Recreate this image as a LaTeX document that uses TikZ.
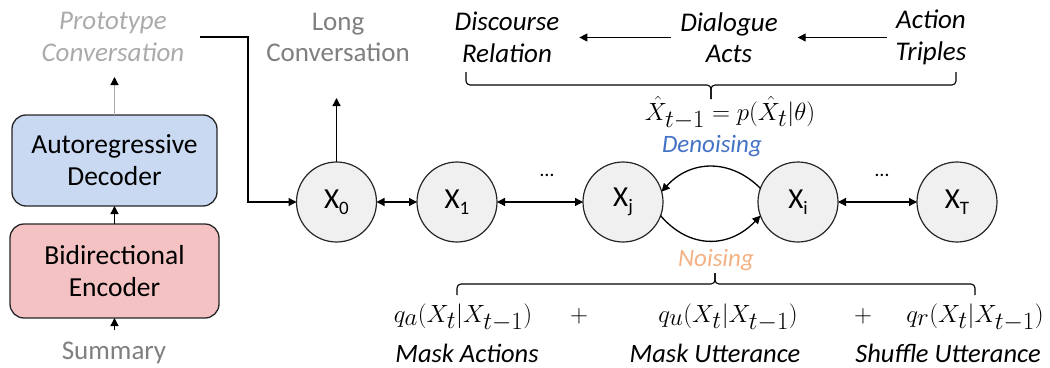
\documentclass[tikz,border=0pt]{standalone}
\usepackage{fontspec}
\setmainfont{Carlito}
\usetikzlibrary{arrows.meta}
\definecolor{decfill}{HTML}{C9D9F2}
\definecolor{encfill}{HTML}{F4C2C2}
\definecolor{nodefill}{HTML}{F0F0F0}
\definecolor{denoise}{HTML}{4472C4}
\definecolor{noise}{HTML}{F4B183}
\definecolor{lightgraytext}{HTML}{ABABAB}
\definecolor{graytext}{HTML}{7F7F7F}
\definecolor{edge}{HTML}{262626}
\newcommand\xsub[1]{\raisebox{-6pt}{\fontsize{19}{19}\selectfont #1}}
\begin{document}
\begin{tikzpicture}[x=1pt,y=-1pt,
  every node/.style={inner sep=0pt, outer sep=0pt},
  box/.style={draw=edge, line width=1.3pt, rounded corners=14pt, minimum width=205pt, minimum height=91pt, align=center, font=\fontsize{27.5}{32}\selectfont},
  state/.style={circle, draw=edge, line width=1.2pt, fill=nodefill, minimum size=80pt, font=\fontsize{29}{29}\selectfont},
  lbl/.style={align=center, font=\fontsize{27}{31.5}\selectfont},
  ilbl/.style={align=center, font=\fontsize{27}{31.5}\selectfont\itshape},
  conn/.style={line width=1.3pt, -{Triangle[length=8pt,width=8pt]}},
  biconn/.style={line width=1.3pt, {Triangle[length=8pt,width=8pt]}-{Triangle[length=8pt,width=8pt]}},
  mth/.style={font=\fontsize{33}{33}\selectfont, anchor=base},
  bracel/.style={line width=1.1pt, rounded corners=4pt},
]
\useasboundingbox (0,0) rectangle (1050,367);

% left encoder-decoder
\node[box, fill=decfill] (dec) at (114.5,160.5) {Autoregressive\\Decoder};
\node[box, fill=encfill, minimum width=209pt, minimum height=94pt] (enc) at (114.5,271) {Bidirectional\\Encoder};
\node[lbl, text=graytext] (sum) at (114,353) {Summary};
\node[ilbl, text=lightgraytext] (proto) at (113,37) {Prototype\\Conversation};
\node[lbl, text=graytext] (long) at (338,37.5) {Long\\Conversation};

\coordinate (protoin) at (114.5,77);
\coordinate (sumout) at (114.5,330);
\coordinate (protoout) at (200,37);
\coordinate (bend) at (248,37);
\coordinate (longin) at (336.5,98);

% states
\node[state] (x0) at (336.5,202) {X\xsub{0}};
\node[state] (x1) at (457,202) {X\xsub{1}};
\node[state] (xj) at (623,202) {X\xsub{j}};
\node[state] (xi) at (798,202) {X\xsub{i}};
\node[state] (xT) at (957,202) {X\xsub{T}};
\node[font=\fontsize{20}{20}\selectfont] (d1) at (547,175) {…};
\node[font=\fontsize{20}{20}\selectfont] (d2) at (882,175) {…};

\draw[line width=1.1pt, draw=lightgraytext, -{Triangle[length=8pt,width=8pt,color=black]}] (dec.north) -- (protoin);
\draw[conn] (enc.north) -- (dec.south);
\draw[conn] (sumout) -- (enc.south);
\draw[conn] (protoout) -- (bend) |- (x0.west);
\draw[conn] (x0.north) -- (longin);
\draw[biconn] (x0.east) -- (x1.west);
\draw[biconn] (x1.east) -- (xj.west);
\draw[biconn] (xi.east) -- (xT.west);
\draw[conn] (xi.160) .. controls (730,158) and (690,160) .. (xj.15);
\draw[conn] (xj.-20) .. controls (690,250) and (730,248) .. (xi.200);

\node[ilbl, text=denoise, font=\fontsize{25}{25}\selectfont\itshape] (den) at (712,146) {Denoising};
\node[ilbl, text=noise, font=\fontsize{25}{25}\selectfont\itshape] (noi) at (716,260) {Noising};

% top
\node[ilbl] (disc) at (507,37.5) {Discourse\\Relation};
\node[ilbl] (dial) at (729,37.5) {Dialogue\\Acts};
\node[ilbl] (act) at (931,37.5) {Action\\Triples};
\draw[conn, line width=1.2pt, shorten <=9pt, shorten >=20pt] (dial.west) -- (disc.east);
\draw[conn, line width=1.2pt, shorten <=9pt, shorten >=20pt] (act.west) -- (dial.east);

\draw[bracel] (466,72) |- (711,85) -- (711,99);
\draw[bracel] (956,72) |- (711,85) -- (711,99);
\node[mth] (phat) at (730,120) {$\hat{X}_{t-1} = p(\hat{X}_t|\theta)$};

% bottom
\draw[bracel] (457,295) |- (715,284) -- (715,273);
\draw[bracel] (975,295) |- (715,284) -- (715,273);
\node[mth] (qa) at (463,322) {$q_a(X_t|X_{t-1})$};
\node[mth] (p1) at (579,322) {$+$};
\node[mth] (qu) at (728,322) {$q_u(X_t|X_{t-1})$};
\node[mth] (p2) at (863,322) {$+$};
\node[mth] (qr) at (975,322) {$q_r(X_t|X_{t-1})$};
\node[ilbl, anchor=base, font=\fontsize{26.5}{30}\selectfont\itshape] (ma) at (467,362) {Mask Actions};
\node[ilbl, anchor=base, font=\fontsize{26.5}{30}\selectfont\itshape] (mu) at (715,362) {Mask Utterance};
\node[ilbl, anchor=base, font=\fontsize{26.5}{30}\selectfont\itshape] (su) at (948,362) {Shuffle Utterance};
\end{tikzpicture}
\end{document}
